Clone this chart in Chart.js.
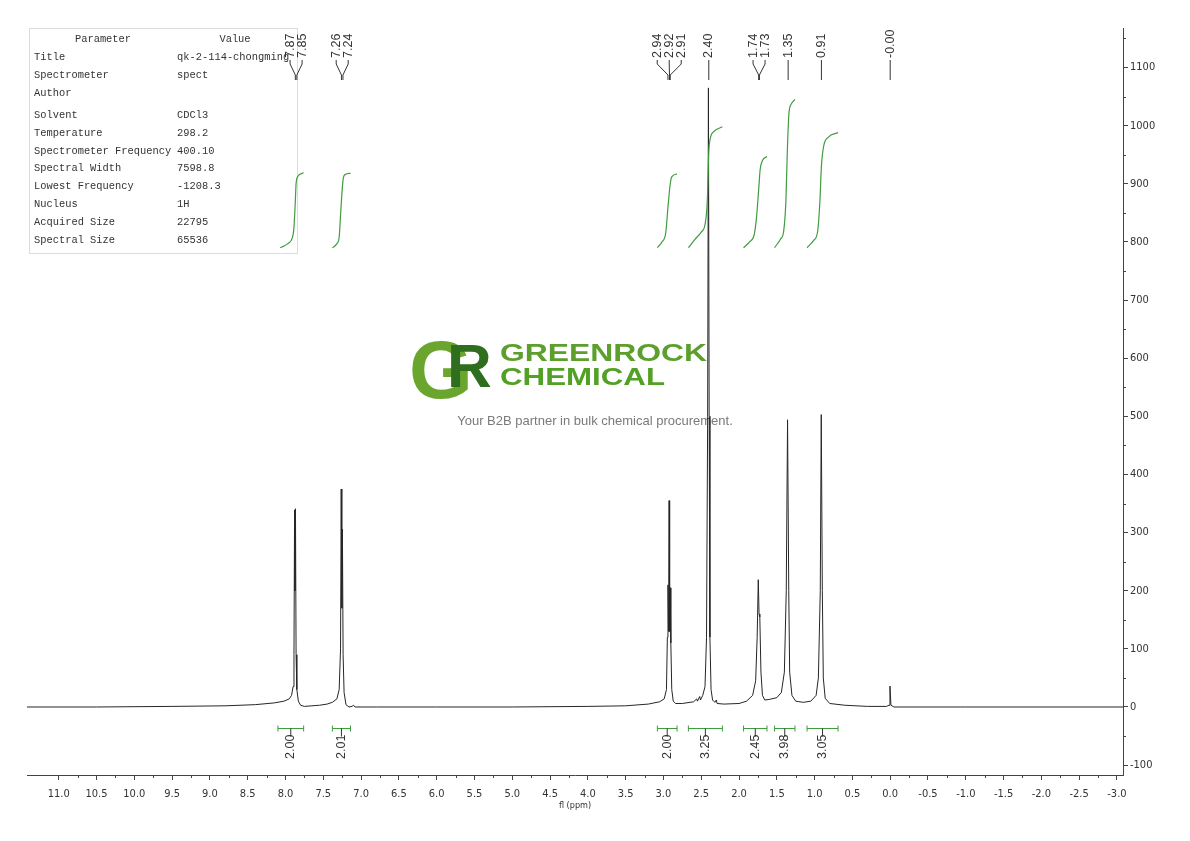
<!DOCTYPE html>
<html>
<head>
<meta charset="utf-8">
<script src="https://cdn.jsdelivr.net/npm/chart.js@4.4.0/dist/chart.umd.min.js"></script>
<style>
html,body{margin:0;padding:0;background:#fff;}
#wrap{width:1190px;height:841px;}
</style>
</head>
<body>
<div id="wrap"><canvas id="myChart" width="1190" height="841"></canvas></div>
<script>
// spectrum trace (ppm, intensity)
var specPpm = [11.42,10.5,9.5,8.8,8.4,8.15,8.02,7.95,7.92,7.90,7.888,7.880,7.875,7.868,7.860,7.850,7.83,7.80,7.75,7.65,7.55,7.45,7.38,7.32,7.29,7.272,7.263,7.255,7.247,7.238,7.225,7.20,7.16,7.12,7.10,7.08,6.8,6.0,5.0,4.0,3.5,3.2,3.05,2.99,2.96,2.948,2.940,2.932,2.925,2.918,2.910,2.902,2.89,2.87,2.84,2.75,2.60,2.56,2.55,2.52,2.51,2.48,2.45,2.43,2.415,2.405,2.395,2.385,2.37,2.35,2.32,2.30,2.29,2.2,2.0,1.90,1.82,1.78,1.76,1.745,1.735,1.725,1.71,1.69,1.66,1.6,1.5,1.44,1.40,1.375,1.358,1.342,1.33,1.30,1.25,1.15,1.05,0.98,0.95,0.925,0.912,0.898,0.885,0.86,0.80,0.6,0.3,0.05,0.015,0.003,-0.01,-0.05,-1.0,-3.08];
var specInt = [0,0,1,2,4,7,10,14,20,35,90,339,200,341,90,30,10,3,1,2,3,5,8,14,30,100,375,170,306,90,25,4,0,1,3,0,0,0,0,1,2,5,9,14,30,120,210,130,355,130,205,110,30,10,6,6,9,14,10,18,12,20,35,120,500,1065,500,120,30,12,8,12,6,5,6,10,20,45,120,219,160,155,60,20,12,13,16,25,60,200,494,200,60,20,10,8,10,20,50,200,503,200,50,15,6,3,1,1,3,36,3,0,0,0];

// integral curves
var intPpm = [
  [8.07,7.97,7.91,7.89,7.87,7.86,7.84,7.76],
  [7.38,7.32,7.29,7.27,7.25,7.235,7.21,7.14],
  [3.08,3.02,2.97,2.94,2.91,2.89,2.82],
  [2.67,2.58,2.50,2.45,2.42,2.40,2.38,2.33,2.22],
  [1.94,1.86,1.80,1.77,1.74,1.72,1.69,1.63],
  [1.53,1.45,1.41,1.38,1.36,1.34,1.31,1.26],
  [1.10,1.01,0.96,0.93,0.91,0.88,0.82,0.69]
];
var intVal = [
  [790,797,807,822,870,900,912,919],
  [790,797,808,850,890,910,916,918],
  [790,800,815,860,900,912,917],
  [790,805,817,830,870,955,978,990,998],
  [790,800,812,840,890,925,940,947],
  [790,805,818,870,960,1020,1037,1045],
  [790,803,818,870,930,965,980,988]
];

// integral brackets below the baseline
var bracketFrom = [8.10,7.38,3.08,2.67,1.94,1.53,1.10];
var bracketTo = [7.76,7.14,2.82,2.22,1.63,1.26,0.69];
var bracketText = ["2.00","2.01","2.00","3.25","2.45","3.98","3.05"];

// peak picks
var peakPpm = [7.87,7.85,7.26,7.24,2.94,2.92,2.91,2.40,1.74,1.73,1.35,0.91,0.00];
var peakText = ["7.87","7.85","7.26","7.24","2.94","2.92","2.91","2.40","1.74","1.73","1.35","0.91","-0.00"];

// axes
var xMin = -3.08, xMax = 11.42;
var xTicks = [11.0,10.5,10.0,9.5,9.0,8.5,8.0,7.5,7.0,6.5,6.0,5.5,5.0,4.5,4.0,3.5,3.0,2.5,2.0,1.5,1.0,0.5,0.0,-0.5,-1.0,-1.5,-2.0,-2.5,-3.0];
var yMin = -117, yMax = 1168;
var yTicks = [-100,0,100,200,300,400,500,600,700,800,900,1000,1100];

// parameter table
var tableParams = ["Title","Spectrometer","Author","Solvent","Temperature","Spectrometer Frequency","Spectral Width","Lowest Frequency","Nucleus","Acquired Size","Spectral Size"];
var tableValues = ["qk-2-114-chongming","spect","","CDCl3","298.2","400.10","7598.8","-1208.3","1H","22795","65536"];

var axisFont = "'Liberation Sans Narrow','DejaVu Sans Condensed',sans-serif";
var green = '#3f9c3f';

function toXY(px, vals){
  var out = [];
  for (var i=0;i<px.length;i++){ out.push({x:px[i], y:vals[i]}); }
  return out;
}

var datasets = [{
  label:'spectrum',
  data: toXY(specPpm, specInt),
  borderColor:'#262626',
  borderWidth:1,
  pointRadius:0,
  fill:false,
  order:2
}];
for (var k=0;k<intPpm.length;k++){
  datasets.push({
    label:'integral'+k,
    data: toXY(intPpm[k], intVal[k]),
    borderColor: green,
    borderWidth:1.2,
    pointRadius:0,
    cubicInterpolationMode:'monotone',
    fill:false,
    order:1
  });
}

function drawStretched(ctx, text, x, y, w, font, color){
  ctx.save();
  ctx.font = font;
  ctx.fillStyle = color;
  ctx.textAlign = 'left';
  var m = ctx.measureText(text).width;
  ctx.translate(x, y);
  ctx.scale(w/m, 1);
  ctx.fillText(text, 0, 0);
  ctx.restore();
}

var backgroundPlugin = {
  id:'background',
  beforeDatasetsDraw:function(chart){
    var ctx = chart.ctx;
    ctx.save();
    // watermark logo
    ctx.textBaseline = 'alphabetic';
    ctx.textAlign = 'left';
    ctx.fillStyle = '#6aa52e';
    ctx.font = 'bold 82px "Liberation Sans", Arial, sans-serif';
    ctx.fillText('G', 409, 398);
    ctx.fillStyle = '#2f6e1f';
    ctx.font = 'bold 62px "Liberation Sans", Arial, sans-serif';
    ctx.fillText('R', 447, 387);
    drawStretched(ctx, 'GREENROCK', 500, 361, 207, 'bold 24px "Liberation Sans", Arial, sans-serif', '#5c9f2c');
    drawStretched(ctx, 'CHEMICAL', 500, 385, 165, 'bold 24px "Liberation Sans", Arial, sans-serif', '#52a024');
    ctx.fillStyle = '#7a7a7a';
    ctx.font = '13px "Liberation Sans", Arial, sans-serif';
    ctx.textAlign = 'center';
    ctx.fillText('Your B2B partner in bulk chemical procurement.', 595, 425);

    // parameter table
    ctx.strokeStyle = '#dcdcdc';
    ctx.lineWidth = 1;
    ctx.strokeRect(29.5, 28.5, 268, 225);
    ctx.fillStyle = '#333';
    ctx.font = '10.4px "Liberation Mono", monospace';
    ctx.textBaseline = 'middle';
    ctx.textAlign = 'center';
    ctx.fillText('Parameter', 103, 39);
    ctx.fillText('Value', 235, 39);
    ctx.textAlign = 'left';
    var rowY = [57,75,93,115,133,151,168,186,204,222,240];
    for (var i=0;i<tableParams.length;i++){
      ctx.fillText(tableParams[i], 34, rowY[i]);
      ctx.fillText(tableValues[i], 177, rowY[i]);
    }
    ctx.restore();
  }
};

var annotatePlugin = {
  id:'annotate',
  afterDatasetsDraw:function(chart){
    var ctx = chart.ctx, xs = chart.scales.x;
    ctx.save();
    // integral brackets
    var by = 728.5;
    ctx.lineWidth = 1;
    for (var i=0;i<bracketFrom.length;i++){
      var a = xs.getPixelForValue(bracketFrom[i]);
      var b = xs.getPixelForValue(bracketTo[i]);
      var c = (a+b)/2;
      ctx.strokeStyle = green;
      ctx.beginPath();
      ctx.moveTo(a, by); ctx.lineTo(b, by);
      ctx.moveTo(a, by-3); ctx.lineTo(a, by+3);
      ctx.moveTo(b, by-3); ctx.lineTo(b, by+3);
      ctx.stroke();
      ctx.strokeStyle = '#333';
      ctx.beginPath();
      ctx.moveTo(c, by); ctx.lineTo(c, by+8);
      ctx.stroke();
      ctx.save();
      ctx.translate(c, 759);
      ctx.rotate(-Math.PI/2);
      ctx.fillStyle = '#333';
      ctx.font = '12.5px "Liberation Sans", Arial, sans-serif';
      ctx.textAlign = 'left';
      ctx.textBaseline = 'middle';
      ctx.fillText(bracketText[i], 0, 0);
      ctx.restore();
    }

    // peak labels, spread apart where they crowd
    var px = peakPpm.map(function(v){ return xs.getPixelForValue(v); });
    var lx = px.slice();
    var gap = 12, s = 0;
    while (s < px.length){
      var e = s;
      while (e+1 < px.length && px[e+1] - px[e] < gap) e++;
      var mean = 0;
      for (var j=s;j<=e;j++) mean += px[j];
      mean /= (e-s+1);
      for (var j=s;j<=e;j++) lx[j] = mean + (j - s - (e-s)/2)*gap;
      s = e+1;
    }
    ctx.strokeStyle = '#333';
    ctx.fillStyle = '#333';
    ctx.lineWidth = 1;
    for (var i=0;i<px.length;i++){
      ctx.save();
      ctx.translate(lx[i], 58);
      ctx.rotate(-Math.PI/2);
      ctx.font = '12.5px "Liberation Sans", Arial, sans-serif';
      ctx.textAlign = 'left';
      ctx.textBaseline = 'middle';
      ctx.fillText(peakText[i], 0, 0);
      ctx.restore();
      ctx.beginPath();
      ctx.moveTo(lx[i], 60);
      ctx.lineTo(lx[i], 64);
      ctx.lineTo(px[i], 75);
      ctx.lineTo(px[i], 80);
      ctx.stroke();
    }
    ctx.restore();
  },
  afterDraw:function(chart){
    // minor ticks halfway between the labelled ones
    var ctx = chart.ctx, xs = chart.scales.x, ys = chart.scales.y;
    var ca = chart.chartArea;
    ctx.save();
    ctx.strokeStyle = '#444';
    ctx.lineWidth = 1;
    ctx.beginPath();
    for (var i=0;i<xTicks.length-1;i++){
      var p = Math.round(xs.getPixelForValue((xTicks[i]+xTicks[i+1])/2)) + 0.5;
      ctx.moveTo(p, ca.bottom); ctx.lineTo(p, ca.bottom+3);
    }
    for (var j=0;j<yTicks.length;j++){
      var q = Math.round(ys.getPixelForValue(yTicks[j]+50)) + 0.5;
      if (q < ca.top) continue;
      ctx.moveTo(ca.right, q); ctx.lineTo(ca.right+3, q);
    }
    ctx.stroke();
    ctx.restore();
  }
};

var ctx = document.getElementById('myChart').getContext('2d');
var myChart = new Chart(ctx, {
  type:'line',
  data:{datasets:datasets},
  plugins:[backgroundPlugin, annotatePlugin],
  options:{
    responsive:false,
    animation:false,
    devicePixelRatio:1,
    layout:{padding:{left:27, top:28, right:27, bottom:30}},
    plugins:{legend:{display:false}, tooltip:{enabled:false}},
    elements:{line:{tension:0}, point:{radius:0}},
    scales:{
      x:{
        type:'linear', reverse:true, min:xMin, max:xMax,
        afterFit:function(s){ s.height = 36; },
        afterBuildTicks:function(s){ s.ticks = xTicks.map(function(v){ return {value:v}; }); },
        grid:{drawOnChartArea:false, tickLength:5, color:'#444'},
        border:{color:'#444', width:1},
        ticks:{autoSkip:false, maxRotation:0, padding:8, color:'#333',
          font:{family:axisFont, size:11},
          callback:function(v){ return Number(v).toFixed(1); }},
        title:{display:true, text:'fl (ppm)', color:'#333', font:{family:axisFont, size:9}, padding:0}
      },
      y:{
        position:'right', min:yMin, max:yMax,
        afterFit:function(s){ s.width = 40; },
        afterBuildTicks:function(s){ s.ticks = yTicks.map(function(v){ return {value:v}; }); },
        grid:{drawOnChartArea:false, tickLength:5, color:'#444'},
        border:{color:'#444', width:1},
        ticks:{padding:2, color:'#333',
          font:{family:axisFont, size:11},
          callback:function(v){ return String(Math.round(v)); }}
      }
    }
  }
});
</script>
</body>
</html>
